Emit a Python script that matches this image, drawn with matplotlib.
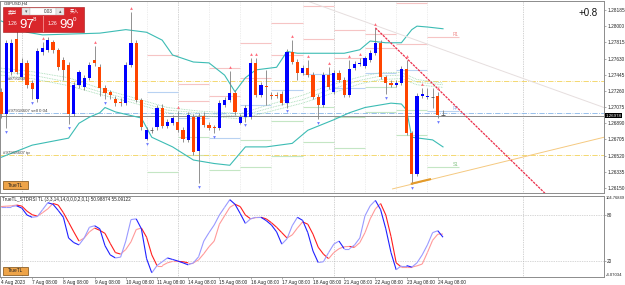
import numpy as np
import matplotlib
matplotlib.use("Agg")
import matplotlib.pyplot as plt
from matplotlib.patches import Rectangle
from matplotlib.collections import LineCollection
from matplotlib.transforms import blended_transform_factory

plt.rcParams['font.family'] = ['Liberation Sans', 'Noto Sans CJK SC', 'DejaVu Sans']

W, H = 625, 285
nan = np.nan

# GBPUSD H4 bars, first bar = 4 Aug 2023 08:00
opens = [1.2725, 1.2700, 1.2748, 1.2785, 1.2742, 1.2758, 1.2735, 1.2717, 1.2771, 1.2773,
         1.2782, 1.2773, 1.2761, 1.2756, 1.2700, 1.2733, 1.2731, 1.2741, 1.2761, 1.2753,
         1.2729, 1.2725, 1.2717, 1.2713, 1.2712, 1.2756, 1.2781, 1.2716, 1.2671, 1.2681,
         1.2685, 1.2707, 1.2686, 1.2689, 1.2691, 1.2681, 1.2670, 1.2696, 1.2657, 1.2697,
         1.2687, 1.2685, 1.2684, 1.2710, 1.2716, 1.2724, 1.2689, 1.2696, 1.2696, 1.2758,
         1.2721, 1.2732, 1.2721, 1.2721, 1.2722, 1.2712, 1.2771, 1.2759, 1.2747, 1.2752,
         1.2744, 1.2719, 1.2710, 1.2744, 1.2725, 1.2747, 1.2738, 1.2721, 1.2752, 1.2757,
         1.2755, 1.2761, 1.2769, 1.2781, 1.2742, 1.2735, 1.2733, 1.2735, 1.2751, 1.2678,
         1.2631, 1.2720, 1.2719, 1.2719, 1.2720, 1.2698]
highs = [1.2729, 1.2784, 1.2785, 1.2796, 1.2764, 1.2761, 1.2738, 1.2775, 1.2782, 1.2788,
         1.2784, 1.2775, 1.2765, 1.2759, 1.2736, 1.2750, 1.2744, 1.2759, 1.2777, 1.2757,
         1.2733, 1.2727, 1.2720, 1.2718, 1.2759, 1.2816, 1.2784, 1.2718, 1.2685, 1.2685,
         1.2710, 1.2711, 1.2694, 1.2698, 1.2703, 1.2685, 1.2702, 1.2700, 1.2701, 1.2702,
         1.2691, 1.2687, 1.2716, 1.2719, 1.2749, 1.2727, 1.2700, 1.2710, 1.2764, 1.2764,
         1.2736, 1.2750, 1.2725, 1.2725, 1.2726, 1.2774, 1.2784, 1.2763, 1.2756, 1.2761,
         1.2748, 1.2722, 1.2748, 1.2753, 1.2750, 1.2750, 1.2742, 1.2761, 1.2760, 1.2764,
         1.2766, 1.2773, 1.2798, 1.2784, 1.2744, 1.2738, 1.2738, 1.2755, 1.2761, 1.2680,
         1.2724, 1.2729, 1.2729, 1.2729, 1.2725, 1.2704]
lows = [1.2695, 1.2684, 1.2744, 1.2745, 1.2738, 1.2729, 1.2717, 1.2713, 1.2767, 1.2771,
        1.2769, 1.2750, 1.2738, 1.2688, 1.2697, 1.2729, 1.2727, 1.2738, 1.2755, 1.2720,
        1.2717, 1.2717, 1.2709, 1.2709, 1.2710, 1.2753, 1.2713, 1.2681, 1.2670, 1.2678,
        1.2681, 1.2684, 1.2684, 1.2687, 1.2679, 1.2668, 1.2668, 1.2653, 1.2621, 1.2685,
        1.2681, 1.2678, 1.2681, 1.2708, 1.2713, 1.2698, 1.2688, 1.2691, 1.2694, 1.2719,
        1.2719, 1.2710, 1.2717, 1.2718, 1.2710, 1.2707, 1.2757, 1.2738, 1.2744, 1.2742,
        1.2717, 1.2694, 1.2708, 1.2728, 1.2722, 1.2736, 1.2719, 1.2719, 1.2750, 1.2755,
        1.2752, 1.2759, 1.2767, 1.2740, 1.2722, 1.2731, 1.2731, 1.2733, 1.2676, 1.2620,
        1.2629, 1.2718, 1.2717, 1.2707, 1.2695, 1.2697]
closes = [1.2700, 1.2781, 1.2781, 1.2748, 1.2758, 1.2733, 1.2728, 1.2772, 1.2775, 1.2784,
          1.2773, 1.2753, 1.2750, 1.2700, 1.2733, 1.2748, 1.2741, 1.2756, 1.2758, 1.2729,
          1.2724, 1.2721, 1.2712, 1.2712, 1.2756, 1.2781, 1.2716, 1.2685, 1.2681, 1.2681,
          1.2707, 1.2686, 1.2691, 1.2695, 1.2681, 1.2671, 1.2698, 1.2656, 1.2696, 1.2687,
          1.2684, 1.2684, 1.2712, 1.2716, 1.2724, 1.2702, 1.2696, 1.2707, 1.2758, 1.2721,
          1.2733, 1.2731, 1.2720, 1.2720, 1.2712, 1.2771, 1.2759, 1.2747, 1.2752, 1.2744,
          1.2719, 1.2710, 1.2744, 1.2731, 1.2747, 1.2738, 1.2721, 1.2751, 1.2757, 1.2758,
          1.2764, 1.2769, 1.2781, 1.2742, 1.2735, 1.2733, 1.2735, 1.2751, 1.2678, 1.2631,
          1.2720, 1.2722, 1.2720, 1.2719, 1.2698, 1.2698]

up_fractals = [8, 18, 25, 34, 44, 48, 49, 56, 59, 63, 67, 69, 72, 78, 81, 84]
down_fractals = [1, 6, 13, 20, 28, 38, 41, 47, 55, 61, 74, 79, 84]

# bands (teal)
upper_idx = [0, 3, 5, 8, 19, 24, 28, 31, 33, 37, 40, 43, 45, 47, 49, 53, 55, 57, 66, 69, 71, 74, 77, 79, 80, 82, 85]
upper_val = [1.2806, 1.2799, 1.2793, 1.2790, 1.2792, 1.2796, 1.2793, 1.2784, 1.2767, 1.2759,
             1.2758, 1.2744, 1.2725, 1.2741, 1.2750, 1.2753, 1.2771, 1.2769, 1.2769, 1.2773,
             1.2783, 1.2781, 1.2781, 1.2796, 1.2800, 1.2799, 1.2797]
lower_idx = [0, 6, 13, 15, 17, 19, 20, 22, 27, 29, 33, 37, 41, 44, 47, 51, 56, 59, 64, 67, 70, 75, 77, 78, 79, 83, 85]
lower_val = [1.2650, 1.2664, 1.2672, 1.2689, 1.2696, 1.2701, 1.2707, 1.2702, 1.2695, 1.2673,
             1.2662, 1.2647, 1.2643, 1.2641, 1.2662, 1.2662, 1.2666, 1.2681, 1.2693, 1.2701,
             1.2707, 1.2712, 1.2711, 1.2704, 1.2673, 1.2670, 1.2662]

# dotted moving-average ribbon
ma_idx = [0, 6, 13, 19, 25, 32, 38, 46, 52, 58, 63, 69, 73, 77, 80, 85]
ma_fast = [1.2752, 1.2748, 1.2741, 1.2729, 1.2719, 1.2707, 1.2703, 1.2700, 1.2711, 1.2721, 1.2732, 1.2742, 1.2747, 1.2747, 1.2739, 1.2735]
ma_mid = [1.2748, 1.2744, 1.2736, 1.2725, 1.2716, 1.2704, 1.2701, 1.2697, 1.2707, 1.2716, 1.2727, 1.2738, 1.2743, 1.2744, 1.2736, 1.2733]
ma_slow = [1.2744, 1.2740, 1.2732, 1.2722, 1.2713, 1.2701, 1.2698, 1.2694, 1.2703, 1.2712, 1.2722, 1.2734, 1.2739, 1.2740, 1.2733, 1.2730]

# daily pivots
day_start = [28, 34, 40, 46, 52, 58, 64, 70, 76, 82]
pp_level = [1.2725, 1.2695, 1.2672, 1.2710, 1.2727, 1.2745, 1.2729, 1.2747, 1.2750, 1.2703]
r1_level = [1.2767, 1.2714, 1.2720, 1.2741, 1.2767, 1.2785, 1.2764, 1.2775, 1.2780, 1.2788]
s1_level = [1.2633, 1.2673, 1.2636, 1.2670, 1.2692, 1.2708, 1.2696, 1.2731, 1.2704, 1.2639]
r2_level = [nan, 1.2734, 1.2752, 1.2781, 1.2804, 1.2823, 1.2796, 1.2791, 1.2826, nan]
s2_level = [nan, 1.2653, nan, 1.2639, 1.2652, 1.2668, 1.2661, 1.2702, 1.2676, nan]

# order lines, bid
sl_price = 1.2737
open_price = 1.2701
tp_price = 1.2653
bid = 1.26978

# trend lines (bar, price)
red_tl = [(72, 1.2798), (104.6, 1.2609)]
grey_tl = [(58.3, 1.2830), (115.96, 1.2707)]
orange_tl = [(75.3, 1.2614), (115.96, 1.2673)]
orange_bold = [(79, 1.2620), (82.5, 1.2625)]

# stochastic
stoch_k = [91, 91, 91, 92, 89, 80, 77, 78, 87, 96, 94, 86, 77, 50, 44, 41, 50, 64, 66, 62,
           40, 28, 24, 25, 46, 74, 75, 62, 23, 4.5, 14, 19, 24, 22, 20, 17.6, 15, 17.6, 25.5, 46,
           57, 67, 80, 90, 100, 94, 82, 69, 75, 77, 77, 72.7, 67, 58, 42, 49, 66, 77, 73, 57,
           33, 18, 19, 31, 42, 46, 36, 36, 41, 50, 79, 92, 99, 87, 62, 31, 8.5, 14, 14, 12,
           17.6, 28, 41, 57, 59.5, 51]
stoch_d = [91, 91.5, 92, 93, 91.6, 85, 80.4, 78.5, 83, 88, 95, 93, 83, 70.6, 58, 46, 50, 58, 63, 60,
           56, 43, 31, 29, 35, 45, 61, 63, 51, 28, 14, 14, 17.6, 19.5, 19.5, 19, 17.6, 17.6, 21.5, 29.5,
           38.6, 46, 68, 79, 90, 94, 91, 80, 75, 76.6, 77, 75, 70, 64, 57, 50, 54, 63, 71, 68,
           55, 38, 29, 23, 31, 36, 38.6, 39, 38, 44, 57, 75, 88, 95, 80, 52, 17.6, 12, 12, 12,
           13.7, 16, 31, 47, 55, 55.1]

price_ticks = [1.28185, 1.28000, 1.27815, 1.27630, 1.27445, 1.27260, 1.27075,
               1.26890, 1.26705, 1.26520, 1.26335, 1.26150]
time_ticks = [0, 6, 12, 18, 24, 30, 36, 42, 48, 54, 60, 66, 72, 78, 84]
time_labels = ['4 Aug 2023', '7 Aug 08:00', '8 Aug 08:00', '9 Aug 08:00', '10 Aug 08:00',
               '11 Aug 08:00', '14 Aug 08:00', '15 Aug 08:00', '16 Aug 08:00', '17 Aug 08:00',
               '18 Aug 08:00', '21 Aug 08:00', '22 Aug 08:00', '23 Aug 08:00', '24 Aug 08:00']
grid_idx = [4, 34, 64, 100.4]

n = len(opens)
idx = np.arange(n)


def fbox(x, y, w, h):
    return [x / W, 1 - (y + h) / H, w / W, h / H]


fig = plt.figure(figsize=(W / 100, H / 100), dpi=100)
ax = fig.add_axes(fbox(0, 0.5, 604, 192.5))
sub = fig.add_axes(fbox(0, 196, 604, 81))

xlim = (-0.19, 115.96)
ax.set_xlim(*xlim)
ax.set_ylim(1.26093, 1.28293)
sub.set_xlim(*xlim)
sub.set_ylim(-0.87, 104.78)

for a in (ax, sub):
    for s in a.spines.values():
        s.set_color('#8c8c8c')
        s.set_linewidth(0.7)
    a.yaxis.tick_right()
    a.tick_params(axis='both', labelsize=3.4, length=1.5, pad=0.8, width=0.5,
                  colors='#8c8c8c', labelcolor='#222222')
    for g in grid_idx:
        a.axvline(g, color='#a8a8a8', lw=0.5, ls=(0, (1, 1.5)), zorder=1)

ax.set_xticks([])
ax.set_yticks(price_ticks)
ax.set_yticklabels(['%.5f' % p for p in price_ticks])

# day separators
for d in day_start:
    ax.axvline(d, color='#dedede', lw=0.5, ls=(0, (1, 1.5)), zorder=1)

# pivots
piv = [(r2_level, '#f6c4c4'), (r1_level, '#f6c4c4'), (pp_level, '#b8d2f2'),
       (s1_level, '#c4e6c4'), (s2_level, '#c4e6c4')]
for levels, col in piv:
    for d, lv in zip(day_start, levels):
        if not np.isnan(lv):
            ax.hlines(lv, d, d + 6, color=col, lw=0.8, zorder=1)
last = day_start[-1] + 5.5
ax.text(last, r1_level[-1], 'R1', fontsize=3.3, color='#f08a8a', ha='center', va='bottom')
ax.text(last, pp_level[-1], 'PP', fontsize=3.3, color='#8cb0e6', ha='center', va='bottom')
ax.text(last, s1_level[-1], 'S1', fontsize=3.3, color='#7fc07f', ha='center', va='bottom')

# order lines
ax.axhline(sl_price, color='#f2d25a', lw=0.6, ls='-.', zorder=2)
ax.axhline(tp_price, color='#f2d25a', lw=0.6, ls='-.', zorder=2)
ax.axhline(open_price, color='#86b4e8', lw=0.6, ls='-.', zorder=2)
ax.axhline(bid, color='#8c8c8c', lw=0.7, zorder=2)
ax.text(1.3, sl_price, '#97918607', fontsize=3.2, color='#444444', va='bottom')
ax.text(1.3, open_price, '#97918607 sell 0.04', fontsize=3.2, color='#444444', va='bottom')
ax.text(0.4, tp_price, '#97918607 tp', fontsize=3.2, color='#444444', va='bottom')

# ribbon + bands
for m in (ma_fast, ma_mid, ma_slow):
    ax.plot(ma_idx, m, color='#9fd9b0', lw=0.6, ls=(0, (1, 1)), zorder=2)
ax.plot(upper_idx, upper_val, color='#3cbcb4', lw=0.8, zorder=2)
ax.plot(lower_idx, lower_val, color='#3cbcb4', lw=0.8, zorder=2)

# trend lines
ax.plot(*zip(*grey_tl), color='#e6dede', lw=0.7, zorder=2)
ax.plot(*zip(*orange_tl), color='#f5c980', lw=0.7, zorder=2)
ax.plot(*zip(*orange_bold), color='#e39a2a', lw=1.5, zorder=5)
ax.plot(*zip(*red_tl), color='#ec2f4b', lw=0.9, ls=(0, (2, 0.8)), zorder=5)

# candles
body_w = 0.62
for i in idx:
    o, h, l, c = opens[i], highs[i], lows[i], closes[i]
    ax.vlines(i, l, h, color='#808080', lw=0.6, zorder=3)
    if c == o:
        ax.hlines(o, i - body_w / 2, i + body_w / 2, color='#555555', lw=0.6, zorder=4)
        continue
    col = '#0000ff' if c > o else '#ff4500'
    ax.add_patch(Rectangle((i - body_w / 2, min(o, c)), body_w, abs(c - o),
                           facecolor=col, edgecolor='none', zorder=4))

off = 0.00045
ax.plot(up_fractals, [highs[i] + off for i in up_fractals], ls='none', marker='^',
        ms=2.0, color='#ff6a7a', mec='none', zorder=5)
ax.plot(down_fractals, [lows[i] - off for i in down_fractals], ls='none', marker='v',
        ms=2.0, color='#6a78ff', mec='none', zorder=5)

# bid box on price scale
tr = blended_transform_factory(ax.transAxes, ax.transData)
ax.text(1.003, bid, '%.5f' % bid, transform=tr, fontsize=3.2, color='white', ha='left',
        va='center', bbox=dict(facecolor='black', edgecolor='none', pad=0.4), zorder=10, clip_on=False)

ax.text(0.99, 0.935, '+0.8', transform=ax.transAxes, fontsize=7, ha='right', va='center', color='#111111')

# stochastic panel
sub.axhline(80, color='#b0b0b0', lw=0.5, ls=(0, (1, 1.5)))
sub.axhline(20, color='#b0b0b0', lw=0.5, ls=(0, (1, 1.5)))


def slope_lines(a, vals, bright, pale):
    pts = np.column_stack([idx, vals])
    segs = np.stack([pts[:-1], pts[1:]], axis=1)
    cols = [bright if vals[j + 1] < vals[j] else pale for j in range(n - 1)]
    a.add_collection(LineCollection(segs, colors=cols, linewidths=0.8, zorder=3))


slope_lines(sub, stoch_d, '#ff1f1f', '#ff9a9a')
slope_lines(sub, stoch_k, '#2020ff', '#9a9aff')

sub.set_yticks([80, 20])
sub.set_yticklabels(['80', '20'])
sub.text(1.003, 1.0, '104.76849', transform=sub.transAxes, fontsize=2.9, ha='left', va='top', color='#222222')
sub.text(1.003, 0.0, '-4.07034', transform=sub.transAxes, fontsize=3.1, ha='left', va='bottom', color='#222222')
sub.set_xticks(time_ticks)
sub.set_xticklabels(time_labels, ha='left')
sub.text(0.004, 0.985, 'TrueTL_STDRSI TL (3,3,14,14,0,0,0,2,0,1) 50.98874 55.09122',
         transform=sub.transAxes, fontsize=3.3, ha='left', va='top', color='#222222')

# overlay in pixel units for the trading widget and buttons
ov = fig.add_axes([0, 0, 1, 1])
ov.set_xlim(0, W)
ov.set_ylim(H, 0)
ov.axis('off')

ov.text(4, 3.5, 'GBPUSD,H4', fontsize=3, color='#222222', va='center')
red = '#d9262b'
ov.add_patch(Rectangle((3, 7), 81, 24.5, facecolor=red, edgecolor='#a01515', lw=0.4))
ov.add_patch(Rectangle((22, 8), 8, 6.5, facecolor='#e6e6e6', edgecolor='#bbbbbb', lw=0.3))
ov.add_patch(Rectangle((30, 8), 26, 6.5, facecolor='white', edgecolor='#bbbbbb', lw=0.3))
ov.add_patch(Rectangle((56, 8), 8, 6.5, facecolor='#e6e6e6', edgecolor='#bbbbbb', lw=0.3))
ov.add_patch(Rectangle((43, 15.5), 0.7, 16, facecolor='#f08080', edgecolor='none'))
ov.text(12, 11.2, '卖出', fontsize=3.3, color='white', ha='center', va='center')
ov.text(74, 11.2, '买入', fontsize=3.3, color='white', ha='center', va='center')
ov.text(26, 11.2, '▾', fontsize=3.5, color='#555555', ha='center', va='center')
ov.text(60, 11.2, '▴', fontsize=3.5, color='#555555', ha='center', va='center')
ov.text(53, 11.3, '0.03', fontsize=3.3, color='#333333', ha='right', va='center')
for x0, big, sup in [(8, '97', '8'), (48, '99', '0')]:
    ov.text(x0, 25, '1.26', fontsize=3.6, color='white', va='baseline')
    ov.text(x0 + 11, 28, big, fontsize=9.5, color='white', va='baseline')
    ov.text(x0 + 25, 21, sup, fontsize=4.5, color='white', va='baseline')

for y0 in (181, 266.5):
    ov.add_patch(Rectangle((3, y0), 25, 8, facecolor='#eea449', edgecolor='#7a4a10', lw=0.5))
    ov.text(15.5, y0 + 4.2, 'TrueTL', fontsize=3.4, color='#222222', ha='center', va='center')

fig.savefig('out.png', dpi=100)
